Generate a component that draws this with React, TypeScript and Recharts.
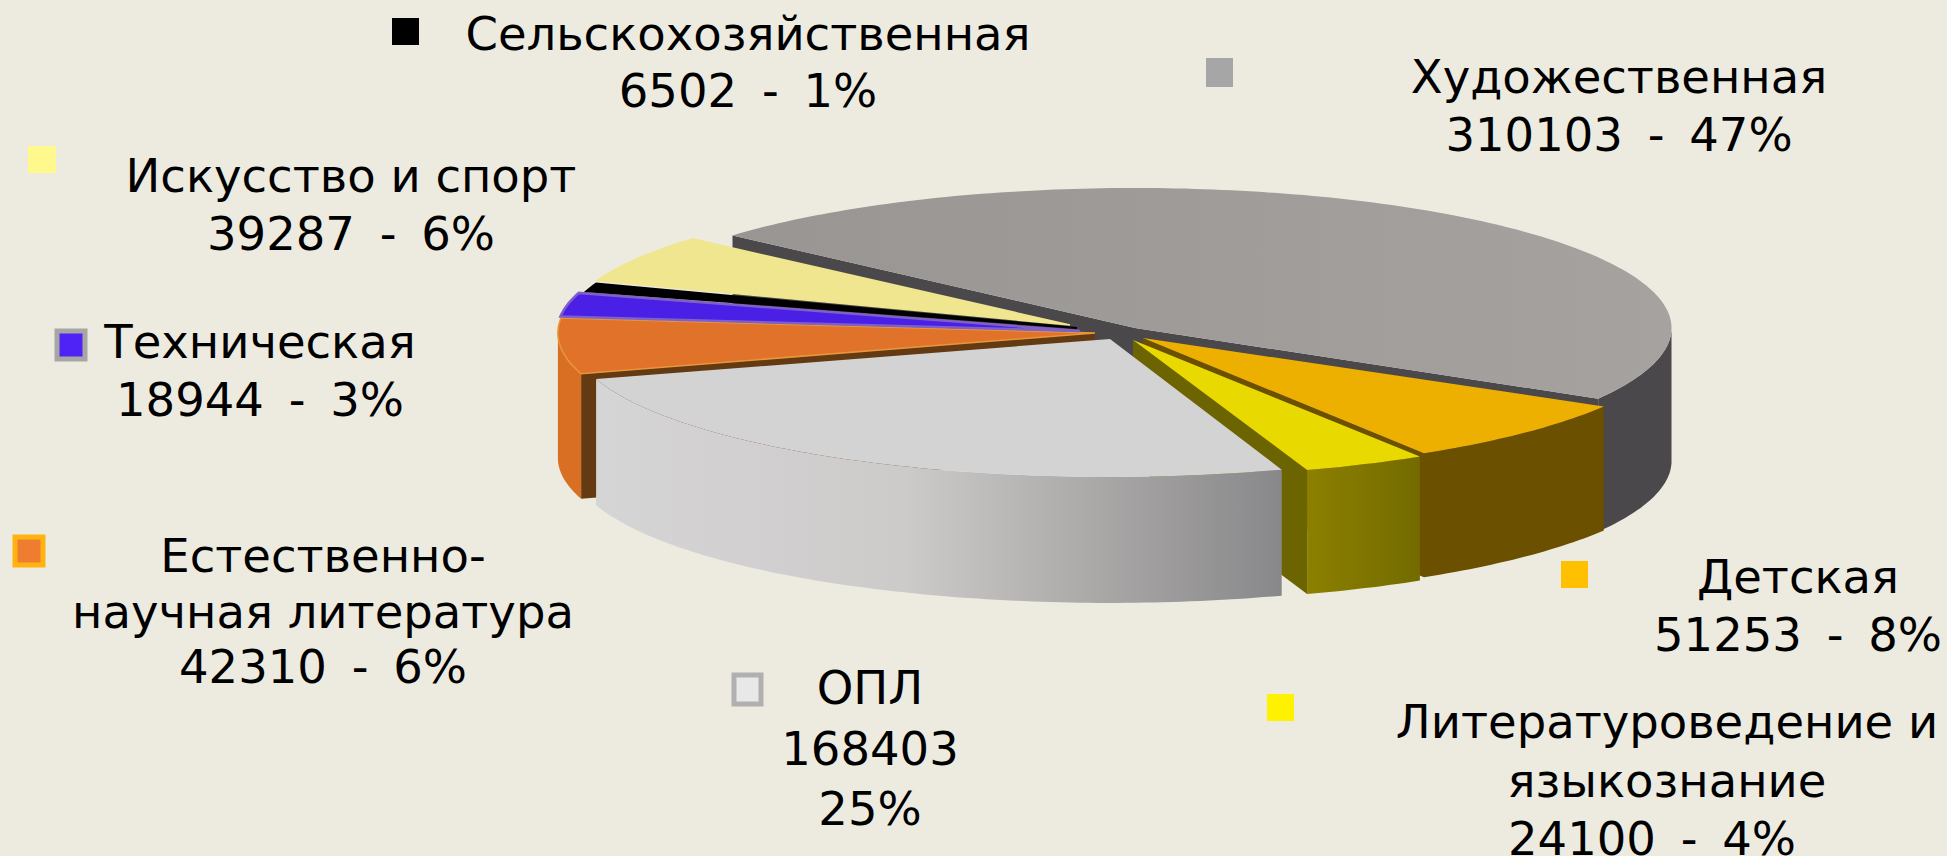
import React from 'react';
import { PieChart, Pie } from 'recharts';

const categories = [
  'Художественная',
  'Детская',
  'Литературоведение и языкознание',
  'ОПЛ',
  'Естественно-научная литература',
  'Техническая',
  'Сельскохозяйственная',
  'Искусство и спорт',
];
const values = [310103, 51253, 24100, 168403, 42310, 18944, 6502, 39287];
const shares = [47, 8, 4, 25, 6, 3, 1, 6];

// how each label breaks into lines
const labelLines = [
  ['Художественная', '310103 - 47%'],
  ['Детская', '51253 - 8%'],
  ['Литературоведение и', 'языкознание', '24100 - 4%'],
  ['ОПЛ', '168403', '25%'],
  ['Естественно-', 'научная литература', '42310 - 6%'],
  ['Техническая', '18944 - 3%'],
  ['Сельскохозяйственная', '6502 - 1%'],
  ['Искусство и спорт', '39287 - 6%'],
];

const WIDTH = 1947;
const HEIGHT = 856;
const CX = 1115;
const CY = 328;
const RADIUS = 556;
const SQUASH = 140 / 556;
const BACKGROUND = '#edebe0';

// explode offset, radius scale, depth and colours for every slice
const looks: any[] = [
  { dx: 20, dy: 0, rx: 0.965, ry: 1, depth: 133, top: 'url(#grayTop)', rim: '#4a484a', wall: '#4a484a', walls: ['start', 'end'] },
  { dx: 28, dy: 10, rx: 0.96, ry: 0.968, depth: 124, top: '#eeb000', rim: '#6b5000', wall: '#6b5000', walls: ['end'] },
  { dx: 18, dy: 12, rx: 0.98, ry: 0.98, depth: 124, top: '#e8d900', rim: 'url(#litRim)', wall: '#6c6400', walls: ['end'] },
  { dx: -5, dy: 11, rx: 0.966, ry: 0.985, depth: 126, top: '#d3d3d4', rim: 'url(#oplRim)', wall: '#8a8a8c', walls: [] },
  { dx: -20, dy: 5, rx: 0.966, ry: 1, depth: 125, top: '#e0722a', rim: '#d96f22', wall: '#633a12', walls: ['start'], edge: '#e8963c', edgeWidth: 1.5 },
  { dx: -35, dy: 3, rx: 0.94, ry: 0.96, depth: 0, top: '#4a1fe6', rim: '#4a1fe6', wall: '#4a1fe6', walls: [], edge: '#8060c8', edgeWidth: 2.5 },
  { dx: -38, dy: 0, rx: 0.92, ry: 0.93, depth: 0, top: '#000000', rim: '#000000', wall: '#000000', walls: [], edge: '#000000', edgeWidth: 2 },
  { dx: -45, dy: -3, rx: 0.905, ry: 0.93, depth: 0, top: '#efe68f', rim: '#efe68f', wall: '#efe68f', walls: [], edge: '#efe68f', edgeWidth: 1.5 },
];

// legend squares and label anchors
const swatches: any[] = [
  { x: 1206, y: 58, w: 27, h: 29, fill: '#a6a6a6' },
  { x: 1561, y: 561, w: 27, h: 27, fill: '#ffc000' },
  { x: 1267, y: 694, w: 27, h: 27, fill: '#fff200' },
  { x: 734, y: 675, w: 27, h: 29, fill: '#e8e8e8', border: '#b0b0b0' },
  { x: 15, y: 537, w: 28, h: 28, fill: '#ee7d31', border: '#ffb310' },
  { x: 57, y: 331, w: 28, h: 28, fill: '#4f22f5', border: '#a6a6a6' },
  { x: 392, y: 18, w: 27, h: 27, fill: '#000000' },
  { x: 28, y: 146, w: 28, h: 27, fill: '#fff88c' },
];
const anchors: any[] = [
  { x: 1619, y: 93, step: 58 },
  { x: 1798, y: 593, step: 58 },
  { x: 1667, y: 738, step: 58.5, lastShift: -15 },
  { x: 870, y: 704, step: 60.5 },
  { x: 323, y: 572, step: 55.5 },
  { x: 260, y: 358, step: 58 },
  { x: 748, y: 50, step: 57 },
  { x: 351, y: 192, step: 58 },
];

const data = categories.map((name, index) => ({
  name,
  value: values[index],
  share: shares[index],
}));

const project = (index: number, cx: number, cy: number, r: number, angle: number, down = 0) => {
  const look = looks[index];
  const rad = (angle * Math.PI) / 180;
  const x = cx + look.dx + r * look.rx * Math.cos(rad);
  const y = cy + look.dy - r * look.ry * SQUASH * Math.sin(rad) + down;
  return `${x.toFixed(1)},${y.toFixed(1)}`;
};

const arc = (index: number, cx: number, cy: number, r: number, from: number, to: number, down = 0) => {
  const pts: string[] = [];
  const steps = Math.max(1, Math.ceil(Math.abs(to - from)));
  for (let i = 0; i <= steps; i++) {
    pts.push(project(index, cx, cy, r, from + ((to - from) * i) / steps, down));
  }
  return pts;
};

const Slice = ({ index, cx, cy, outerRadius, startAngle, endAngle }: any) => {
  const look = looks[index];
  const hi = Math.max(startAngle, endAngle);
  const lo = Math.min(startAngle, endAngle);
  const frontLo = Math.max(lo, -180);
  const frontHi = Math.min(hi, 0);
  const apex = project(index, cx, cy, 0, 0);
  const apexDown = project(index, cx, cy, 0, 0, look.depth);
  return (
    <g>
      {look.walls.map((side: string) => {
        const angle = side === 'start' ? hi : lo;
        const points = [
          apex,
          project(index, cx, cy, outerRadius, angle),
          project(index, cx, cy, outerRadius, angle, look.depth),
          apexDown,
        ].join(' ');
        return <polygon key={side} points={points} fill={look.wall} />;
      })}
      {frontHi > frontLo && look.depth > 0 && (
        <polygon
          points={[
            ...arc(index, cx, cy, outerRadius, frontLo, frontHi),
            ...arc(index, cx, cy, outerRadius, frontHi, frontLo, look.depth),
          ].join(' ')}
          fill={look.rim}
        />
      )}
      <polygon
        points={[apex, ...arc(index, cx, cy, outerRadius, hi, lo)].join(' ')}
        fill={look.top}
        stroke={look.edge || 'none'}
        strokeWidth={look.edgeWidth || 0}
      />
    </g>
  );
};

const renderLabel = ({ index }: any) => {
  const box = swatches[index];
  const anchor = anchors[index];
  const lines = labelLines[index];
  return (
    <g key={`label-${index}`}>
      <rect
        x={box.x}
        y={box.y}
        width={box.w}
        height={box.h}
        fill={box.fill}
        stroke={box.border || 'none'}
        strokeWidth={box.border ? 5 : 0}
      />
      <text textAnchor="middle" fontFamily="DejaVu Sans" fontSize={46.5} fill="#000000">
        {lines.map((line, row) => (
          <tspan
            key={line}
            x={anchor.x + (row === lines.length - 1 ? anchor.lastShift || 0 : 0)}
            y={anchor.y + row * anchor.step}
            wordSpacing={line.includes(' - ') ? 10 : 0}
          >
            {line}
          </tspan>
        ))}
      </text>
    </g>
  );
};

const oplIndex = categories.indexOf('ОПЛ');

export default function App() {
  return (
    <div style={{ position: 'absolute', left: 0, top: 0, width: WIDTH, height: HEIGHT, background: BACKGROUND }}>
      <PieChart width={WIDTH} height={HEIGHT} margin={{ top: 0, right: 0, bottom: 0, left: 0 }}>
        <defs>
          <linearGradient id="oplRim" x1="0" y1="0" x2="1" y2="0">
            <stop offset="0" stopColor="#d6d5d5" />
            <stop offset="0.45" stopColor="#cdcaca" />
            <stop offset="0.75" stopColor="#a8a5a5" />
            <stop offset="1" stopColor="#88888a" />
          </linearGradient>
          <linearGradient id="litRim" x1="0" y1="0" x2="1" y2="0">
            <stop offset="0" stopColor="#8c8000" />
            <stop offset="1" stopColor="#736b00" />
          </linearGradient>
          <linearGradient id="grayTop" x1="0" y1="0" x2="1" y2="0">
            <stop offset="0" stopColor="#989592" />
            <stop offset="1" stopColor="#a5a29f" />
          </linearGradient>
        </defs>
        {/* everything behind the ОПЛ slice */}
        <Pie
          data={data}
          dataKey="value"
          nameKey="name"
          cx={CX}
          cy={CY}
          outerRadius={RADIUS}
          startAngle={138.6}
          endAngle={-221.4}
          stroke="none"
          isAnimationActive={false}
          shape={(props: any) => (props.index === oplIndex ? <g /> : <Slice {...props} />)}
        />
        {/* ОПЛ sits in front, labels on top */}
        <Pie
          data={data}
          dataKey="value"
          nameKey="name"
          cx={CX}
          cy={CY}
          outerRadius={RADIUS}
          startAngle={138.6}
          endAngle={-221.4}
          stroke="none"
          isAnimationActive={false}
          labelLine={false}
          label={renderLabel}
          shape={(props: any) => (props.index === oplIndex ? <Slice {...props} /> : <g />)}
        />
      </PieChart>
    </div>
  );
}
